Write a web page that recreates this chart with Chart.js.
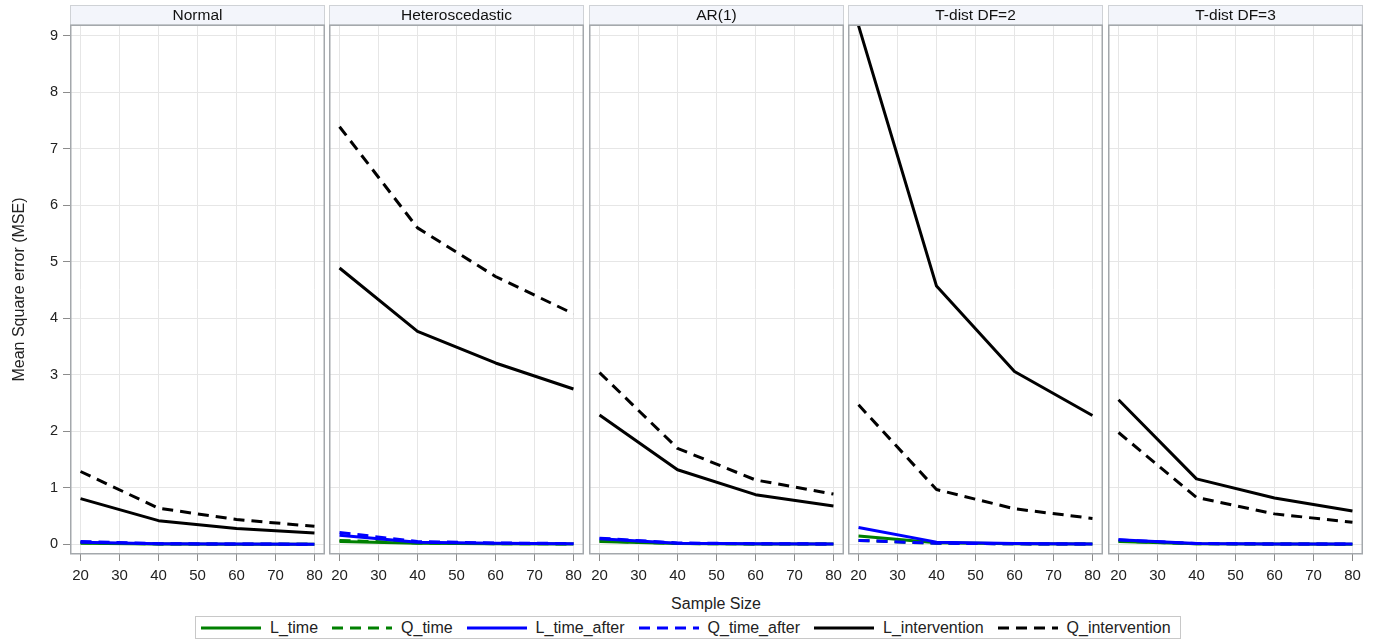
<!DOCTYPE html>
<html><head><meta charset="utf-8">
<script src="https://cdn.jsdelivr.net/npm/chart.js@4.4.1/dist/chart.umd.min.js"></script>
<style>
html,body{margin:0;padding:0;background:#fff;}
body{width:1378px;height:642px;position:relative;overflow:hidden;font-family:"Liberation Sans",Arial,sans-serif;color:#222;}
.pane{position:absolute;top:0;}
#xtitle{position:absolute;left:616px;width:200px;top:594px;height:20px;line-height:20px;text-align:center;font-size:16px;}
#legend{position:absolute;left:195px;top:616px;height:21px;border:1px solid #c8c8c8;display:flex;align-items:center;padding:0 9px 0 5px;font-size:16px;white-space:nowrap;}
#legend .item{display:flex;align-items:center;margin-right:14px;}
#legend .item:last-child{margin-right:0;}
#legend svg{margin-right:9px;}
</style>
</head><body>
<div id="xtitle">Sample Size</div>
<div id="legend"></div>
<script>
// ---- data ----
const sampleSizes = [20, 40, 60, 80];
const panelTitles = ['Normal', 'Heteroscedastic', 'AR(1)', 'T-dist DF=2', 'T-dist DF=3'];
const xTicks = [20, 30, 40, 50, 60, 70, 80];
const yTicks = [0, 1, 2, 3, 4, 5, 6, 7, 8, 9];

// one row per panel (Normal, Heteroscedastic, AR(1), T-dist DF=2, T-dist DF=3)
const L_time = [
  [0.02, 0.005, 0.003, 0.002],
  [0.05, 0.02, 0.01, 0.006],
  [0.05, 0.015, 0.008, 0.005],
  [0.15, 0.03, 0.01, 0.005],
  [0.05, 0.01, 0.005, 0.003]
];
const Q_time = [
  [0.03, 0.008, 0.004, 0.003],
  [0.07, 0.025, 0.012, 0.008],
  [0.06, 0.015, 0.008, 0.005],
  [0.07, 0.02, 0.01, 0.005],
  [0.06, 0.012, 0.006, 0.004]
];
const L_time_after = [
  [0.04, 0.01, 0.005, 0.003],
  [0.16, 0.04, 0.02, 0.01],
  [0.10, 0.02, 0.01, 0.006],
  [0.30, 0.04, 0.015, 0.008],
  [0.08, 0.015, 0.008, 0.005]
];
const Q_time_after = [
  [0.05, 0.012, 0.006, 0.004],
  [0.21, 0.05, 0.025, 0.015],
  [0.11, 0.025, 0.012, 0.008],
  [0.07, 0.02, 0.01, 0.006],
  [0.08, 0.015, 0.008, 0.005]
];
const L_intervention = [
  [0.81, 0.42, 0.28, 0.20],
  [4.89, 3.77, 3.21, 2.75],
  [2.29, 1.32, 0.88, 0.68],
  [9.18, 4.57, 3.06, 2.28],
  [2.56, 1.16, 0.82, 0.59]
];
const Q_intervention = [
  [1.29, 0.64, 0.44, 0.32],
  [7.39, 5.60, 4.74, 4.08],
  [3.04, 1.70, 1.14, 0.89],
  [2.47, 0.97, 0.63, 0.46],
  [1.98, 0.83, 0.54, 0.39]
];
const seriesNames = ['L_time', 'Q_time', 'L_time_after', 'Q_time_after', 'L_intervention', 'Q_intervention'];
const seriesValues = [L_time, Q_time, L_time_after, Q_time_after, L_intervention, Q_intervention];

// ---- styles ----
const seriesColors = ['#008000', '#008000', '#0000ff', '#0000ff', '#000000', '#000000'];
const seriesDashed = [false, true, false, true, false, true];
const DASH = [11, 7];
const FONT = '"Liberation Sans", Arial, sans-serif';
const plotLeft = [70, 329, 589, 848, 1108];
const plotWidth = 255;
const CANVAS_H = 600;

const panelDeco = {
  id: 'panelDeco',
  afterDraw(chart, args, opts) {
    const ctx = chart.ctx, a = chart.chartArea;
    ctx.save();
    ctx.fillStyle = '#f3f5fb';
    ctx.fillRect(a.left, 5, a.right - a.left, 20);
    ctx.strokeStyle = '#cfd2d6';
    ctx.lineWidth = 1;
    ctx.strokeRect(a.left + 0.5, 5.5, a.right - a.left - 1, 19.5);
    ctx.strokeStyle = '#a4a8ac';
    ctx.lineWidth = 1.5;
    ctx.strokeRect(a.left + 0.75, a.top + 0.25, a.right - a.left - 1.5, a.bottom - a.top - 0.5);
    ctx.fillStyle = '#111';
    ctx.font = '15.5px ' + FONT;
    ctx.textAlign = 'center';
    ctx.textBaseline = 'middle';
    ctx.fillText(opts.title, (a.left + a.right) / 2, 15.5);
    ctx.restore();
  }
};

panelTitles.forEach((title, p) => {
  const first = p === 0;
  const left = first ? 0 : plotLeft[p] - 10;
  const width = plotLeft[p] + plotWidth + 10 - left;
  const div = document.createElement('div');
  div.className = 'pane';
  div.style.left = left + 'px';
  div.style.width = width + 'px';
  div.style.height = CANVAS_H + 'px';
  const cv = document.createElement('canvas');
  cv.width = width; cv.height = CANVAS_H;
  cv.style.width = width + 'px'; cv.style.height = CANVAS_H + 'px';
  div.appendChild(cv);
  document.body.appendChild(div);

  const datasets = seriesNames.map((name, s) => ({
    label: name,
    data: sampleSizes.map((x, k) => ({ x: x, y: seriesValues[s][p][k] })),
    order: seriesNames.length - s,
    borderColor: seriesColors[s],
    backgroundColor: seriesColors[s],
    borderWidth: 3,
    borderDash: seriesDashed[s] ? DASH : [],
    borderCapStyle: 'butt',
    borderJoinStyle: 'round',
    pointRadius: 0,
    tension: 0,
    fill: false
  }));

  new Chart(cv, {
    type: 'line',
    data: { datasets },
    plugins: [panelDeco],
    options: {
      responsive: false,
      animation: false,
      devicePixelRatio: 1,
      layout: { padding: { left: first ? 0 : 10, right: 10, top: 25, bottom: 0 } },
      plugins: {
        legend: { display: false },
        tooltip: { enabled: false },
        panelDeco: { title: title }
      },
      scales: {
        x: {
          type: 'linear', min: 17.3, max: 82.7,
          afterBuildTicks: s => { s.ticks = xTicks.map(v => ({ value: v })); },
          afterFit: s => { s.height = 46; },
          grid: { color: '#e6e6e6', lineWidth: 1, tickLength: 7, tickColor: '#8c8c8c', drawTicks: true },
          border: { display: false },
          ticks: { font: { size: 15, family: FONT }, color: '#222', padding: 6, maxRotation: 0, autoSkip: false, callback: v => String(v) }
        },
        y: {
          type: 'linear', min: -0.17, max: 9.19,
          afterBuildTicks: s => { s.ticks = yTicks.map(v => ({ value: v })); },
          afterFit: s => { s.width = first ? 70 : 0; },
          grid: { color: '#e6e6e6', lineWidth: 1, tickLength: 7, tickColor: '#8c8c8c', drawTicks: first },
          border: { display: false },
          ticks: { display: first, font: { size: 14.5, family: FONT }, color: '#222', padding: 5, callback: v => String(v) },
          title: { display: first, text: 'Mean Square error (MSE)', font: { size: 16, family: FONT }, color: '#222', padding: { top: 10, bottom: 0 } }
        }
      }
    }
  });
});

// ---- legend ----
const legend = document.getElementById('legend');
seriesNames.forEach((name, s) => {
  const item = document.createElement('div');
  item.className = 'item';
  const ns = 'http://www.w3.org/2000/svg';
  const svg = document.createElementNS(ns, 'svg');
  svg.setAttribute('width', '60'); svg.setAttribute('height', '8');
  const ln = document.createElementNS(ns, 'line');
  ln.setAttribute('x1', '0'); ln.setAttribute('y1', '4');
  ln.setAttribute('x2', '60'); ln.setAttribute('y2', '4');
  ln.setAttribute('stroke', seriesColors[s]);
  ln.setAttribute('stroke-width', '3');
  if (seriesDashed[s]) ln.setAttribute('stroke-dasharray', DASH.join(' '));
  svg.appendChild(ln);
  const txt = document.createElement('span');
  txt.textContent = name;
  item.appendChild(svg); item.appendChild(txt);
  legend.appendChild(item);
});
</script>
</body></html>
